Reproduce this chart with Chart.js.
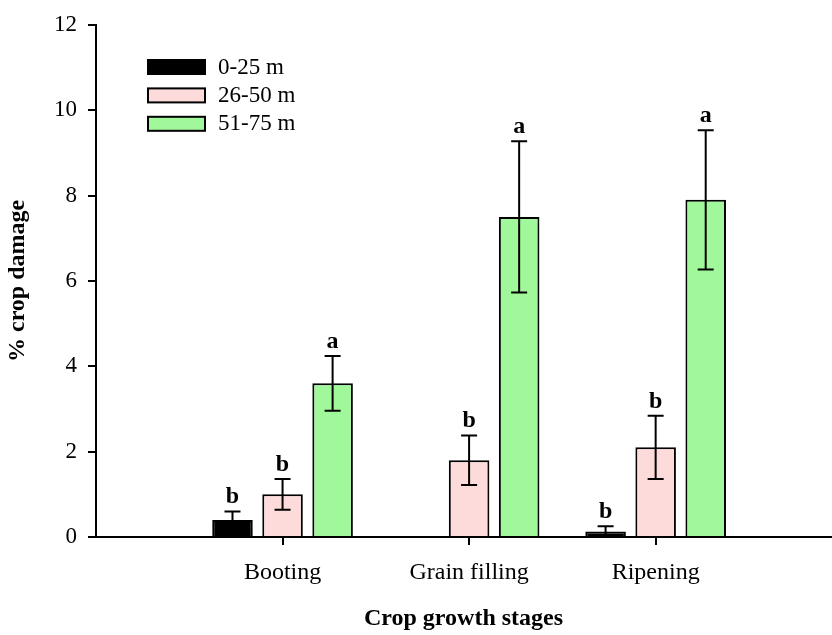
<!DOCTYPE html>
<html>
<head>
<meta charset="utf-8">
<script src="https://cdn.jsdelivr.net/npm/chart.js@4/dist/chart.umd.min.js"></script>
<style>
  html, body { margin: 0; padding: 0; background: #fff; }
  #wrap { width: 832px; height: 635px; }
</style>
</head>
<body>
<div id="wrap"><canvas id="c" width="832" height="635"></canvas></div>
<script>
// Growth stages on the x axis (placed at 1, 2, 3 on a linear scale)
const stages = ['Booting', 'Grain filling', 'Ripening'];
const seriesNames = ['0-25 m', '26-50 m', '51-75 m'];

// Mean % crop damage per distance band
const near = [0.4, 0, 0.13];
const mid  = [1.0, 1.8, 2.1];
const far  = [3.6, 7.5, 7.9];

// Standard errors
const nearErr = [0.2, 0, 0.12];
const midErr  = [0.36, 0.58, 0.74];
const farErr  = [0.64, 1.77, 1.63];

// Significance letters
const nearSig = ['b', '', 'b'];
const midSig  = ['b', 'b', 'b'];
const farSig  = ['a', 'a', 'a'];

const yTicks = [0, 2, 4, 6, 8, 10, 12];

const colors = ['#000000', '#FDDBDB', '#A0F89B'];
const SERIF = '"Liberation Serif", "Times New Roman", serif';

const toPoints = vals => vals.map((v, i) => ({ x: i + 1, y: v }));

const datasets = [near, mid, far].map((vals, k) => ({
  label: seriesNames[k],
  data: toPoints(vals),
  backgroundColor: colors[k],
  borderColor: '#000',
  borderWidth: 2,
  borderSkipped: 'start',
  categoryPercentage: 0.805,
  barPercentage: 0.81,
  errors: [nearErr, midErr, farErr][k],
  letters: [nearSig, midSig, farSig][k]
}));

// Error bars with caps and the letter above each bar
const errorBars = {
  id: 'errorBars',
  afterDatasetsDraw(chart) {
    const ctx = chart.ctx;
    const y = chart.scales.y;
    ctx.save();
    chart.data.datasets.forEach((ds, di) => {
      const meta = chart.getDatasetMeta(di);
      meta.data.forEach((bar, i) => {
        const v = ds.data[i].y;
        const e = ds.errors[i];
        const cx = bar.x;
        let topPx = y.getPixelForValue(v);
        if (e > 0) {
          const hi = y.getPixelForValue(v + e);
          const lo = y.getPixelForValue(v - e);
          ctx.strokeStyle = '#000';
          ctx.lineWidth = 2;
          ctx.beginPath();
          ctx.moveTo(cx, lo); ctx.lineTo(cx, hi);
          ctx.moveTo(cx - 8, hi); ctx.lineTo(cx + 8, hi);
          ctx.moveTo(cx - 8, lo); ctx.lineTo(cx + 8, lo);
          ctx.stroke();
          topPx = hi;
        }
        const txt = ds.letters[i];
        if (txt) {
          ctx.fillStyle = '#000';
          ctx.font = 'bold 24px ' + SERIF;
          ctx.textAlign = 'center';
          ctx.textBaseline = 'alphabetic';
          ctx.fillText(txt, cx, topPx - 8);
        }
      });
    });
    ctx.restore();
  }
};

// Legend box in the upper-left of the plot area
const boxLegend = {
  id: 'boxLegend',
  afterDraw(chart) {
    const ctx = chart.ctx;
    ctx.save();
    chart.data.datasets.forEach((ds, k) => {
      const top = 60 + k * 28.4;
      ctx.fillStyle = ds.backgroundColor;
      ctx.fillRect(148, top, 57, 14);
      ctx.strokeStyle = '#000';
      ctx.lineWidth = 2;
      ctx.strokeRect(148, top, 57, 14);
      ctx.fillStyle = '#000';
      ctx.font = '23px ' + SERIF;
      ctx.textAlign = 'left';
      ctx.textBaseline = 'middle';
      ctx.fillText(ds.label, 218, top + 7.5);
    });
    ctx.restore();
  }
};

new Chart(document.getElementById('c'), {
  type: 'bar',
  data: { datasets },
  options: {
    responsive: false,
    animation: false,
    layout: { padding: { top: 19, right: 1, bottom: 0, left: 0 } },
    plugins: {
      legend: { display: false },
      tooltip: { enabled: false }
    },
    scales: {
      x: {
        type: 'linear',
        min: 0,
        max: 3.94,
        offset: false,
        afterBuildTicks: s => { s.ticks = stages.map((_, i) => ({ value: i + 1 })); },
        afterFit: s => { s.height = 98; },
        ticks: {
          callback: v => stages[v - 1] || '',
          color: '#000',
          font: { family: SERIF, size: 24 },
          padding: 13,
          maxRotation: 0,
          autoSkip: false
        },
        grid: { display: true, offset: false, drawOnChartArea: false, drawTicks: true, tickLength: 8, color: '#000', lineWidth: 2 },
        border: { display: true, color: '#000', width: 2 },
        title: {
          display: true,
          text: 'Crop growth stages',
          color: '#000',
          font: { family: SERIF, size: 24, weight: 'bold' },
          padding: { top: 0, bottom: 2 }
        }
      },
      y: {
        min: 0,
        max: 12,
        afterBuildTicks: s => { s.ticks = yTicks.map(v => ({ value: v })); },
        afterFit: s => { s.width = 96; },
        ticks: {
          color: '#000',
          font: { family: SERIF, size: 23 },
          padding: 11
        },
        grid: { display: true, drawOnChartArea: false, drawTicks: true, tickLength: 8, color: '#000', lineWidth: 2 },
        border: { display: true, color: '#000', width: 2 },
        title: {
          display: true,
          text: '% crop damage',
          color: '#000',
          font: { family: SERIF, size: 24, weight: 'bold' },
          padding: { top: 3, bottom: 0 }
        }
      }
    }
  },
  plugins: [errorBars, boxLegend]
});
</script>
</body>
</html>
